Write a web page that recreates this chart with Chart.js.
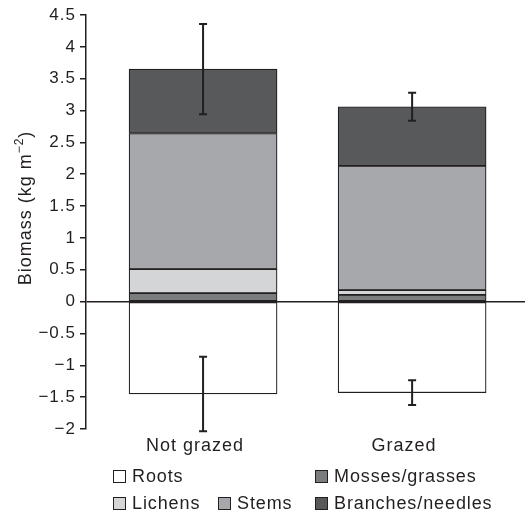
<!DOCTYPE html>
<html>
<head>
<meta charset="utf-8">
<script src="https://cdn.jsdelivr.net/npm/chart.js@4.4.1/dist/chart.umd.min.js"></script>
<style>
    body { margin: 0; background: #fff; }
    #wrap { position: relative; width: 529px; height: 513px; }
    .legend-item {
        position: absolute;
        font: 18px "Liberation Sans", Arial, sans-serif;
        letter-spacing: 0.9px;
        color: #231f20;
        line-height: 20px;
        white-space: nowrap;
    }
    .legend-item .box {
        display: inline-block;
        width: 11px;
        height: 11px;
        border: 1px solid #231f20;
        margin-right: 6px;
        vertical-align: -1px;
    }
</style>
</head>
<body>
<div id="wrap">
    <canvas id="biomassChart" width="529" height="513"></canvas>
    <div id="legend"></div>
</div>
<script>
// 数据
const categories = ['Not grazed', 'Grazed'];
const mosses = [0.135, 0.105];
const lichens = [0.375, 0.075];
const stems = [2.13, 1.95];
const branches = [1.01, 0.93];
const roots = [-1.45, -1.43];
const errAbove = [0.71, 0.22];
const errRoots = [0.585, 0.195];
const yTicks = { min: -2, max: 4.5, step: 0.5 };

const INK = '#231f20';
const FONT = '"Liberation Sans", Arial, sans-serif';

// 图例位置
const legendItems = [
    { label: 'Roots', color: '#ffffff', x: 113, y: 466 },
    { label: 'Mosses/grasses', color: '#7b7c7e', x: 315, y: 466 },
    { label: 'Lichens', color: '#d4d5d7', x: 113, y: 493 },
    { label: 'Stems', color: '#a7a8ab', x: 218, y: 493 },
    { label: 'Branches/needles', color: '#58595b', x: 315, y: 493 }
];

function series(values) {
    return values.map((v, i) => ({ x: i, y: v }));
}

function makeSet(label, values, color) {
    return {
        label: label,
        data: series(values),
        backgroundColor: color,
        borderColor: INK,
        borderWidth: 1.2,
        borderSkipped: false,
        barThickness: 148,
        stack: 's'
    };
}

// 误差线
const errorBars = {
    id: 'errorBars',
    afterDatasetsDraw(chart) {
        const ctx = chart.ctx;
        const xs = chart.scales.x;
        const ys = chart.scales.y;
        ctx.save();
        ctx.strokeStyle = INK;
        ctx.lineWidth = 2;
        categories.forEach((c, i) => {
            const top = mosses[i] + lichens[i] + stems[i] + branches[i];
            const x = xs.getPixelForValue(i);
            [[top, errAbove[i]], [roots[i], errRoots[i]]].forEach(([m, e]) => {
                const y1 = ys.getPixelForValue(m + e);
                const y2 = ys.getPixelForValue(m - e);
                ctx.beginPath();
                ctx.moveTo(x, y1); ctx.lineTo(x, y2);
                ctx.moveTo(x - 4, y1); ctx.lineTo(x + 4, y1);
                ctx.moveTo(x - 4, y2); ctx.lineTo(x + 4, y2);
                ctx.stroke();
            });
        });
        ctx.restore();
    }
};

// 纵轴标题
const yTitle = {
    id: 'yTitle',
    beforeDraw(chart) {
        chart.ctx.letterSpacing = '1px';
    },
    afterDraw(chart) {
        const ctx = chart.ctx;
        ctx.save();
        ctx.translate(26, 208);
        ctx.rotate(-Math.PI / 2);
        ctx.fillStyle = INK;
        ctx.textBaseline = 'middle';
        ctx.font = '18px ' + FONT;
        const main = 'Biomass (kg m';
        const sup = '\u22122';
        ctx.font = '18px ' + FONT;
        const w1 = ctx.measureText(main).width;
        ctx.font = '12px ' + FONT;
        const w2 = ctx.measureText(sup).width;
        ctx.font = '18px ' + FONT;
        const w3 = ctx.measureText(')').width;
        let x = -(w1 + w2 + w3) / 2;
        ctx.textAlign = 'left';
        ctx.fillText(main, x, 0);
        x += w1;
        ctx.font = '12px ' + FONT;
        ctx.fillText(sup, x, -6);
        x += w2;
        ctx.font = '18px ' + FONT;
        ctx.fillText(')', x, 0);
        ctx.restore();
    }
};

window.onload = function() {
    const ctx = document.getElementById('biomassChart').getContext('2d');
    new Chart(ctx, {
        type: 'bar',
        data: {
            datasets: [
                makeSet('Mosses/grasses', mosses, '#7b7c7e'),
                makeSet('Lichens', lichens, '#d4d5d7'),
                makeSet('Stems', stems, '#a7a8ab'),
                makeSet('Branches/needles', branches, '#58595b'),
                makeSet('Roots', roots, '#ffffff')
            ]
        },
        options: {
            responsive: false,
            animation: false,
            layout: { padding: { top: 15, right: 4, left: 0, bottom: 0 } },
            plugins: {
                legend: { display: false },
                tooltip: { enabled: false }
            },
            scales: {
                x: {
                    type: 'linear',
                    min: -0.56,
                    max: 1.54,
                    stacked: true,
                    offset: false,
                    grid: { display: false, drawTicks: false },
                    border: { display: false },
                    afterBuildTicks: s => { s.ticks = categories.map((c, i) => ({ value: i })); },
                    afterFit: s => { s.height = 84; },
                    ticks: {
                        autoSkip: false,
                        maxRotation: 0,
                        padding: 6,
                        labelOffset: -8,
                        color: INK,
                        font: { family: FONT, size: 18 },
                        callback: v => categories[v]
                    }
                },
                y: {
                    stacked: true,
                    min: yTicks.min,
                    max: yTicks.max,
                    afterFit: s => { s.width = 86; },
                    grid: {
                        color: c => (c.tick && c.tick.value === 0) ? INK : 'rgba(0,0,0,0)',
                        lineWidth: 1.5,
                        tickColor: INK,
                        tickLength: 6,
                        tickWidth: 1.5
                    },
                    border: { display: true, color: INK, width: 1.5 },
                    ticks: {
                        stepSize: yTicks.step,
                        padding: 4,
                        color: INK,
                        font: { family: FONT, size: 17 },
                        callback: v => String(v).replace('-', '\u2212')
                    }
                }
            }
        },
        plugins: [errorBars, yTitle]
    });

    // 图例
    const legend = document.getElementById('legend');
    legendItems.forEach(item => {
        const div = document.createElement('div');
        div.className = 'legend-item';
        div.style.left = item.x + 'px';
        div.style.top = item.y + 'px';
        div.innerHTML = '<span class="box" style="background:' + item.color + '"></span>' + item.label;
        legend.appendChild(div);
    });
};
</script>
</body>
</html>
